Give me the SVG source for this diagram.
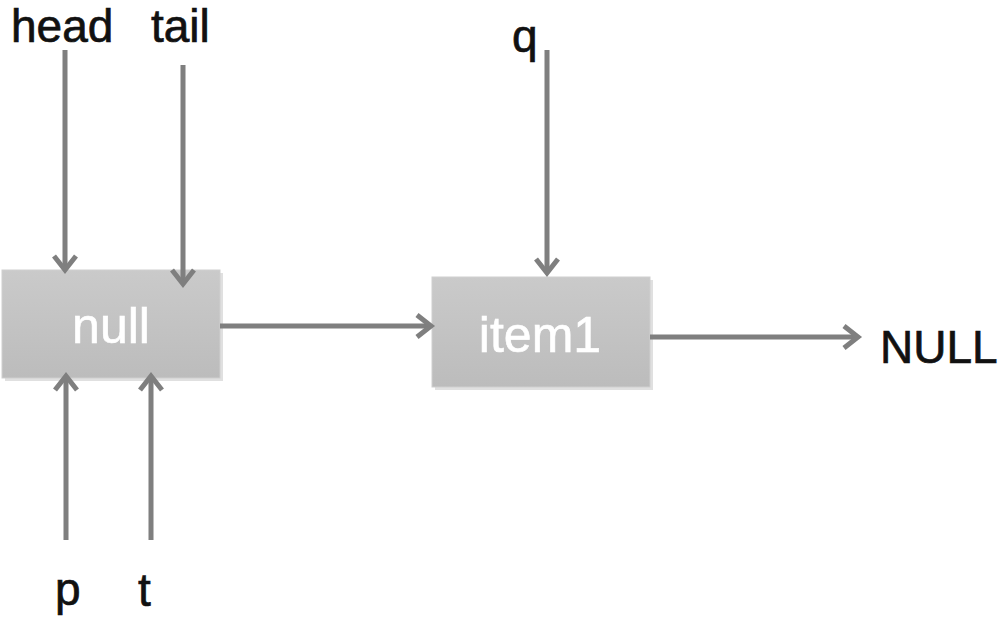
<svg xmlns="http://www.w3.org/2000/svg" width="1000" height="618" viewBox="0 0 1000 618">
<style>
.lbl{font-family:"Liberation Sans",Arial,sans-serif;font-size:46px;fill:#111;stroke:#111;stroke-width:0.7}
.ntx{font-family:"Liberation Sans",Arial,sans-serif;font-size:50px;fill:#fff;stroke:#fff;stroke-width:0.6;text-anchor:middle}
.box{fill:url(#bg);stroke:#cfcfcf;stroke-width:1}
.sh{fill:#000;opacity:0.12}
.ar{stroke:#7f7f7f;stroke-width:5;fill:none;marker-end:url(#ah)}
</style>
<defs>
<linearGradient id="bg" x1="0" y1="0" x2="0" y2="1">
<stop offset="0" stop-color="#cacaca"/>
<stop offset="1" stop-color="#bcbcbc"/>
</linearGradient>
<marker id="ah" markerUnits="userSpaceOnUse" markerWidth="30" markerHeight="30" viewBox="-20 -15 25 30" refX="0" refY="0" orient="auto">
<path d="M-14,-11 L0,0 L-14,11" fill="none" stroke="#7f7f7f" stroke-width="5" stroke-linejoin="miter"/>
</marker>
</defs>
<rect width="1000" height="618" fill="#fff"/>
<g id="node-null">
<rect class="sh" x="5" y="273" width="218" height="108"/>
<rect class="box" x="2" y="270" width="218" height="108"/>
<text class="ntx" x="111" y="343">null</text>
</g>
<g id="node-item1">
<rect class="sh" x="435" y="280" width="218" height="110"/>
<rect class="box" x="432" y="277" width="218" height="110"/>
<text class="ntx" x="540" y="352">item1</text>
</g>
<g id="label-head"><text class="lbl" x="11" y="42">head</text></g>
<g id="label-tail"><text class="lbl" x="151" y="42">tail</text></g>
<g id="label-q"><text class="lbl" x="512" y="52">q</text></g>
<g id="label-p"><text class="lbl" x="55" y="605">p</text></g>
<g id="label-t"><text class="lbl" x="138" y="606">t</text></g>
<g id="label-NULL"><text class="lbl" x="880" y="363">NULL</text></g>
<g id="connectors">
<line class="ar" x1="65" y1="50" x2="65" y2="270"/>
<line class="ar" x1="183" y1="65" x2="183" y2="284"/>
<line class="ar" x1="547" y1="50" x2="547" y2="273"/>
<line class="ar" x1="66" y1="540" x2="66" y2="376"/>
<line class="ar" x1="151" y1="540" x2="151" y2="376"/>
<line class="ar" x1="220" y1="326" x2="431" y2="326"/>
<line class="ar" x1="650" y1="337" x2="858" y2="337"/>
</g>
</svg>
